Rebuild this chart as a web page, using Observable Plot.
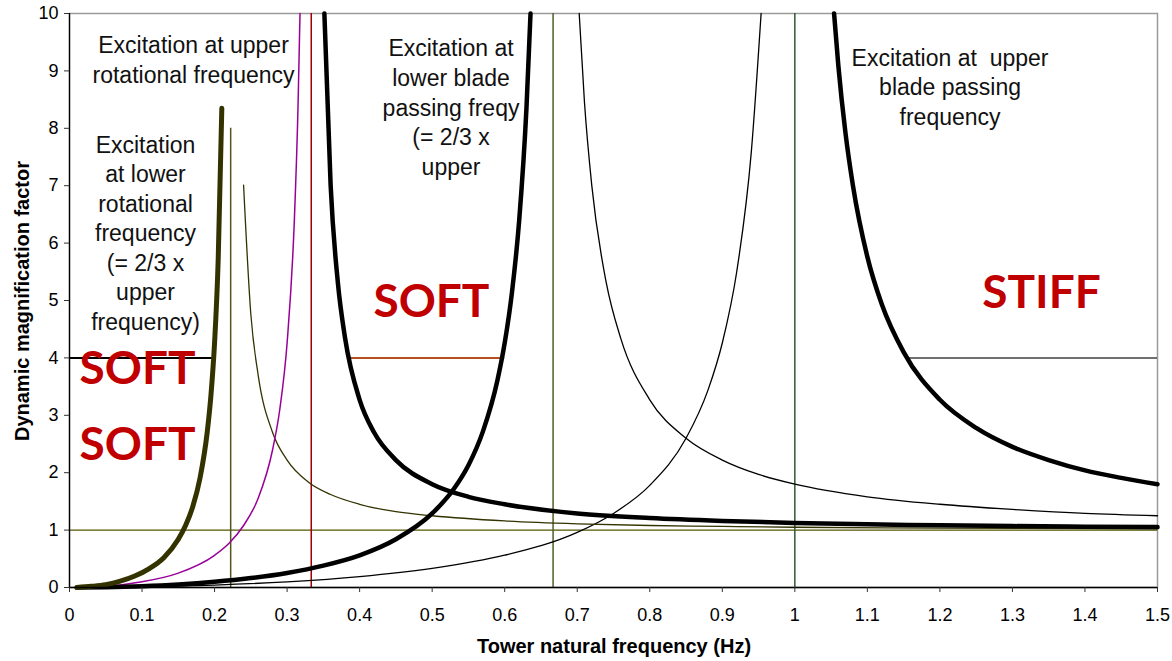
<!DOCTYPE html>
<html>
<head>
<meta charset="utf-8">
<script src="https://cdn.jsdelivr.net/npm/d3@7"></script>
<script src="https://cdn.jsdelivr.net/npm/@observablehq/plot@0.6"></script>
<style>
  html, body { margin: 0; padding: 0; background: #fff; }
  #chart { width: 1172px; height: 661px; }
</style>
</head>
<body>
<div id="chart"></div>
<script>
// ---------- Data ----------
// Axis ticks
const xTicks = [0, 0.1, 0.2, 0.3, 0.4, 0.5, 0.6, 0.7, 0.8, 0.9, 1.0, 1.1, 1.2, 1.3, 1.4, 1.5];
const xTickLabels = ["0", "0.1", "0.2", "0.3", "0.4", "0.5", "0.6", "0.7", "0.8", "0.9", "1", "1.1", "1.2", "1.3", "1.4", "1.5"];
const yTicks = [0, 1, 2, 3, 4, 5, 6, 7, 8, 9, 10];

// Lower rotational excitation (~0.222 Hz): left branch (thick olive)
const lowRotLeftX = [0.01, 0.03, 0.05, 0.07, 0.09, 0.11, 0.13, 0.15, 0.16, 0.17, 0.18, 0.19, 0.195, 0.20, 0.205, 0.21];
const lowRotLeftY = [0.00, 0.02, 0.05, 0.11, 0.20, 0.33, 0.52, 0.84, 1.08, 1.41, 1.91, 2.72, 3.35, 4.26, 5.71, 8.35];
// right branch (thin olive)
const lowRotRightX = [0.24, 0.25, 0.26, 0.28, 0.30, 0.33, 0.36, 0.40, 0.45, 0.50, 0.60, 0.70, 0.80, 0.90, 1.00, 1.20, 1.50];
const lowRotRightY = [7.01, 4.76, 3.71, 2.70, 2.22, 1.83, 1.62, 1.45, 1.32, 1.25, 1.16, 1.11, 1.08, 1.065, 1.05, 1.036, 1.022];

// Upper rotational excitation (~0.333 Hz): left branch (purple)
const upRotLeftX = [0.01, 0.05, 0.10, 0.15, 0.20, 0.22, 0.24, 0.26, 0.28, 0.29, 0.30, 0.31, 0.315, 0.3178];
const upRotLeftY = [0.00, 0.02, 0.10, 0.25, 0.56, 0.77, 1.08, 1.55, 2.40, 3.11, 4.26, 6.40, 8.35, 10];
// right branch (thick black)
const upRotRightX = [0.3514, 0.36, 0.37, 0.38, 0.40, 0.42, 0.45, 0.50, 0.55, 0.60, 0.70, 0.80, 0.90, 1.00, 1.10, 1.20, 1.30, 1.40, 1.50];
const upRotRightY = [10, 7.01, 5.31, 4.34, 3.27, 2.70, 2.22, 1.80, 1.58, 1.45, 1.29, 1.21, 1.16, 1.125, 1.10, 1.084, 1.07, 1.06, 1.052];

// Lower blade passing excitation (~0.667 Hz): left branch (thick black)
const lowBladeLeftX = [0.01, 0.05, 0.10, 0.15, 0.20, 0.25, 0.30, 0.35, 0.40, 0.45, 0.50, 0.53, 0.55, 0.57, 0.59, 0.60, 0.61, 0.62, 0.63, 0.6356];
const lowBladeLeftY = [0.00, 0.006, 0.023, 0.053, 0.099, 0.164, 0.254, 0.381, 0.56, 0.84, 1.29, 1.72, 2.13, 2.72, 3.61, 4.26, 5.14, 6.40, 8.35, 10];
// right branch (thin black)
const lowBladeRightX = [0.7027, 0.71, 0.72, 0.74, 0.76, 0.80, 0.85, 0.90, 0.95, 1.00, 1.10, 1.20, 1.30, 1.40, 1.50];
const lowBladeRightY = [10, 8.45, 7.01, 5.31, 4.34, 3.27, 2.60, 2.22, 1.97, 1.80, 1.58, 1.45, 1.36, 1.29, 1.25];

// Upper blade passing excitation (~1.0 Hz): left branch (thin black)
const upBladeLeftX = [0.01, 0.10, 0.20, 0.30, 0.40, 0.50, 0.60, 0.70, 0.75, 0.80, 0.85, 0.88, 0.90, 0.92, 0.94, 0.9535];
const upBladeLeftY = [0.00, 0.01, 0.042, 0.099, 0.19, 0.333, 0.5625, 0.96, 1.29, 1.78, 2.60, 3.43, 4.26, 5.51, 7.59, 10];
// right branch (thick black)
const upBladeRightX = [1.0541, 1.06, 1.07, 1.08, 1.10, 1.12, 1.15, 1.20, 1.25, 1.30, 1.35, 1.40, 1.45, 1.50];
const upBladeRightY = [10, 9.09, 7.90, 7.01, 5.76, 4.93, 4.10, 3.27, 2.78, 2.45, 2.22, 2.04, 1.91, 1.80];

// Excitation frequency markers (vertical lines) and their tops
const excitationFreqs = [0.2222, 0.3333, 0.6667, 1.0];
const excitationTops = [8, 10, 10, 10];

// Horizontal DMF reference segments
const dmf4Starts = [0, 0.385, 1.155];
const dmf4Ends = [0.199, 0.60, 1.5];
const dmfOne = 1;
const dmfFour = 4;

// Annotation texts
const annoTexts = [
  "Excitation at upper\nrotational frequency",
  "Excitation\nat lower\nrotational\nfrequency\n(= 2/3 x\nupper\nfrequency)",
  "Excitation at\nlower blade\npassing freqy\n(= 2/3 x\nupper",
  "Excitation at\u00a0 upper\nblade passing\nfrequency"
];
const annoX = [0.171, 0.1048, 0.526, 1.214];
const annoY = [9.669, 7.943, 9.616, 9.459];

const zoneTexts = ["SOFT", "SOFT", "SOFT", "STIFF"];
const zoneX = [0.0938, 0.0938, 0.499, 1.340];
const zoneY = [3.537, 2.213, 4.721, 4.878];

const xLabel = "Tower natural frequency (Hz)";
const yLabel = "Dynamic magnification factor";

// ---------- Build ----------
const pts = (xs, ys) => xs.map((x, i) => ({x, y: ys[i]}));
const rules = excitationFreqs.map((f, i) => ({f, top: excitationTops[i]}));
const ruleColors = ["#55551f", "#a00000", "#4f5f2a", "#2f5a2f"];
const seg4 = dmf4Starts.map((s, i) => ({x1: s, x2: dmf4Ends[i]}));
const seg4Colors = ["#000000", "#b5501e", "#404040"];
const seg4Widths = [2, 2, 1.5];

const font = "'Liberation Sans', Arial, Helvetica, sans-serif";

const plot = Plot.plot({
  width: 1172,
  height: 661,
  marginLeft: 69,
  marginRight: 15,
  marginTop: 13,
  marginBottom: 74,
  style: {fontFamily: font, fontSize: "18px", background: "#fff", color: "#000", overflow: "visible"},
  x: {domain: [0, 1.5], label: null},
  y: {domain: [0, 10], label: null},
  marks: [
    Plot.frame({stroke: "#9a9a9a", strokeWidth: 1.5}),
    // DMF = 1 reference
    Plot.ruleY([dmfOne], {x1: 0, x2: 1.5, stroke: "#555500", strokeWidth: 1.3}),
    // DMF = 4 segments
    Plot.ruleY(seg4, {y: () => dmfFour, x1: "x1", x2: "x2", stroke: (d, i) => seg4Colors[i], strokeWidth: (d, i) => seg4Widths[i]}),
    // excitation frequency verticals
    Plot.ruleX(rules, {x: "f", y1: 0, y2: "top", stroke: (d, i) => ruleColors[i], strokeWidth: 1.5}),
    // curves
    Plot.line(pts(upBladeLeftX, upBladeLeftY), {x: "x", y: "y", stroke: "#000", strokeWidth: 1.3, curve: "monotone-x"}),
    Plot.line(pts(lowBladeRightX, lowBladeRightY), {x: "x", y: "y", stroke: "#000", strokeWidth: 1.3, curve: "monotone-x"}),
    Plot.line(pts(lowRotRightX, lowRotRightY), {x: "x", y: "y", stroke: "#333300", strokeWidth: 1.3, curve: "monotone-x"}),
    Plot.line(pts(upRotLeftX, upRotLeftY), {x: "x", y: "y", stroke: "#990099", strokeWidth: 1.5, curve: "monotone-x"}),
    Plot.line(pts(lowBladeLeftX, lowBladeLeftY), {x: "x", y: "y", stroke: "#000", strokeWidth: 4.5, curve: "monotone-x"}),
    Plot.line(pts(upRotRightX, upRotRightY), {x: "x", y: "y", stroke: "#000", strokeWidth: 4.5, curve: "monotone-x"}),
    Plot.line(pts(upBladeRightX, upBladeRightY), {x: "x", y: "y", stroke: "#000", strokeWidth: 4.5, curve: "monotone-x"}),
    Plot.line(pts(lowRotLeftX, lowRotLeftY), {x: "x", y: "y", stroke: "#333300", strokeWidth: 5, curve: "monotone-x"}),
    // axis lines
    Plot.ruleY([0], {stroke: "#000", strokeWidth: 1.3}),
    Plot.ruleX([0], {stroke: "#000", strokeWidth: 1.3}),
    Plot.axisX({ticks: xTicks, tickFormat: (d, i) => xTickLabels[i], tickSize: 5, tickPadding: 16, label: null, stroke: "#333"}),
    Plot.axisY({ticks: yTicks, tickSize: 5, tickPadding: 6, label: null, stroke: "#333"}),
    // annotations
    Plot.text(annoTexts, {x: (d, i) => annoX[i], y: (d, i) => annoY[i], text: d => d, textAnchor: "middle", lineAnchor: "top", lineHeight: 1.283, fontSize: 23, fill: "#111", fontFamily: font}),
    Plot.text(zoneTexts, {x: (d, i) => zoneX[i], y: (d, i) => zoneY[i], text: d => d, textAnchor: "middle", lineAnchor: "bottom", fontSize: 46, fontWeight: "bold", fill: "#c00000", fontFamily: "Lato, 'Open Sans', sans-serif"})
  ]
});

const svg = d3.select(plot);
svg.append("text")
  .attr("x", 614).attr("y", 653)
  .attr("text-anchor", "middle")
  .attr("font-family", font).attr("font-size", 20).attr("font-weight", "bold")
  .attr("fill", "#000")
  .text(xLabel);
svg.append("text")
  .attr("transform", "translate(29,301) rotate(-90)")
  .attr("text-anchor", "middle")
  .attr("font-family", font).attr("font-size", 20).attr("font-weight", "bold")
  .attr("fill", "#000")
  .text(yLabel);

document.getElementById("chart").appendChild(plot);
</script>
</body>
</html>
